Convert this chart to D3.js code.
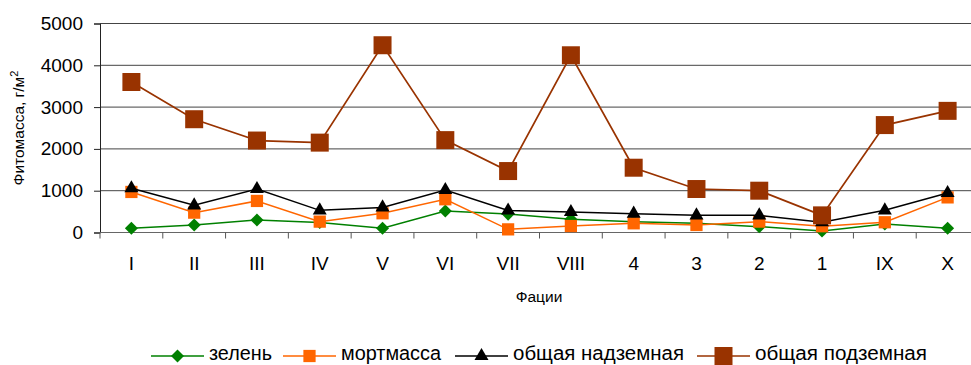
<!DOCTYPE html>
<html><head><meta charset="utf-8">
<script src="https://cdn.jsdelivr.net/npm/d3@7"></script>
<style>body{margin:0;background:#fff;}svg{display:block;font-family:"Liberation Sans",Arial,sans-serif;}</style>
</head><body>
<svg id="c" width="971" height="365"></svg>
<script>
const categories = ["I","II","III","IV","V","VI","VII","VIII","4","3","2","1","IX","X"];
const zelen     = [100,180,300,240,100,515,440,315,260,220,140,35,205,100];
const mortmassa = [970,475,755,260,460,795,75,155,220,180,260,150,245,840];
const nadzemnaya= [1057,650,1040,530,600,1017,525,490,450,410,410,244,530,945];
const podzemnaya= [3600,2710,2200,2150,4480,2210,1470,4240,1550,1040,1000,410,2570,2910];
const yTicks = [0,1000,2000,3000,4000,5000];
const seriesNames = ["зелень","мортмасса","общая надземная","общая подземная"];

const series = [
  {name:seriesNames[0], values:zelen, color:"#008000", sym:d3.symbolSquare, size:85, rot:45, lw:1.5},
  {name:seriesNames[1], values:mortmassa, color:"#FF6600", sym:d3.symbolSquare, size:150, rot:0, lw:1.5},
  {name:seriesNames[2], values:nadzemnaya, color:"#000000", sym:d3.symbolTriangle, size:85, rot:0, lw:1.5},
  {name:seriesNames[3], values:podzemnaya, color:"#993300", sym:d3.symbolSquare, size:324, rot:0, lw:1.7}
];

const svg = d3.select("#c");
const L = 100, R = 979, T = 23.5, B = 232.5;
const x = d3.scaleBand().domain(categories).range([L,R]).padding(0);
const y = d3.scaleLinear().domain([0,5000]).range([B,T]);
const cx = c => x(c) + x.bandwidth()/2;

// gridlines
svg.append("g").selectAll("line").data(yTicks.filter(t=>t>0)).join("line")
  .attr("x1",L).attr("x2",R).attr("y1",d=>y(d)).attr("y2",d=>y(d))
  .attr("stroke","#444").attr("stroke-width",1);

// y axis
const ya = svg.append("g").attr("transform",`translate(${L},0)`)
  .call(d3.axisLeft(y).tickValues(yTicks).tickSize(6).tickPadding(11).tickFormat(d3.format("d")));
ya.select(".domain").attr("stroke","#222");
ya.selectAll(".tick line").attr("stroke","#222");
ya.selectAll("text").attr("font-size",19).attr("fill","#000").attr("font-family","Liberation Sans, Arial, sans-serif");

// x axis baseline
svg.append("line").attr("x1",L).attr("x2",R).attr("y1",B).attr("y2",B).attr("stroke","#666").attr("stroke-width",1);
// boundary ticks
const bounds = categories.map(c=>x(c)).concat([R]);
svg.append("g").selectAll("line").data(bounds).join("line")
  .attr("x1",d=>d).attr("x2",d=>d).attr("y1",B).attr("y2",B+6).attr("stroke","#555");
// x labels
svg.append("g").selectAll("text").data(categories).join("text")
  .attr("x",d=>cx(d)).attr("y",270).attr("text-anchor","middle")
  .attr("font-size",19).attr("fill","#000").text(d=>d);

// axis titles
svg.append("text").attr("x",539).attr("y",302).attr("text-anchor","middle").attr("font-size",15.5).text("Фации");
const yt = svg.append("text").attr("transform","translate(24,128) rotate(-90)").attr("text-anchor","middle").attr("font-size",15.5);
yt.append("tspan").text("Фитомасса, г/м");
yt.append("tspan").attr("dy",-6).attr("font-size",11).text("2");

// series
const line = d3.line().x((d,i)=>cx(categories[i])).y(d=>y(d));
series.forEach(s=>{
  const g = svg.append("g");
  g.append("path").datum(s.values).attr("d",line).attr("fill","none")
    .attr("stroke",s.color).attr("stroke-width",s.lw);
  g.selectAll("path.m").data(s.values).join("path").attr("class","m")
    .attr("d",d3.symbol().type(s.sym).size(s.size))
    .attr("transform",(d,i)=>`translate(${cx(categories[i])},${y(d)}) rotate(${s.rot})`)
    .attr("fill",s.color);
});

// legend
const legX = [151,283,455,697];
const legW = [63,100,171,172];
const legY = 356;
series.forEach((s,i)=>{
  const g = svg.append("g");
  g.append("line").attr("x1",legX[i]).attr("x2",legX[i]+53).attr("y1",legY).attr("y2",legY)
    .attr("stroke",s.color).attr("stroke-width",s.lw);
  g.append("path").attr("d",d3.symbol().type(s.sym).size(s.size))
    .attr("transform",`translate(${legX[i]+26.5},${legY}) rotate(${s.rot})`).attr("fill",s.color);
  g.append("text").attr("x",legX[i]+58).attr("y",360).attr("font-size",20)
    .attr("textLength",legW[i]).attr("lengthAdjust","spacingAndGlyphs").text(s.name);
});
</script>
</body></html>
